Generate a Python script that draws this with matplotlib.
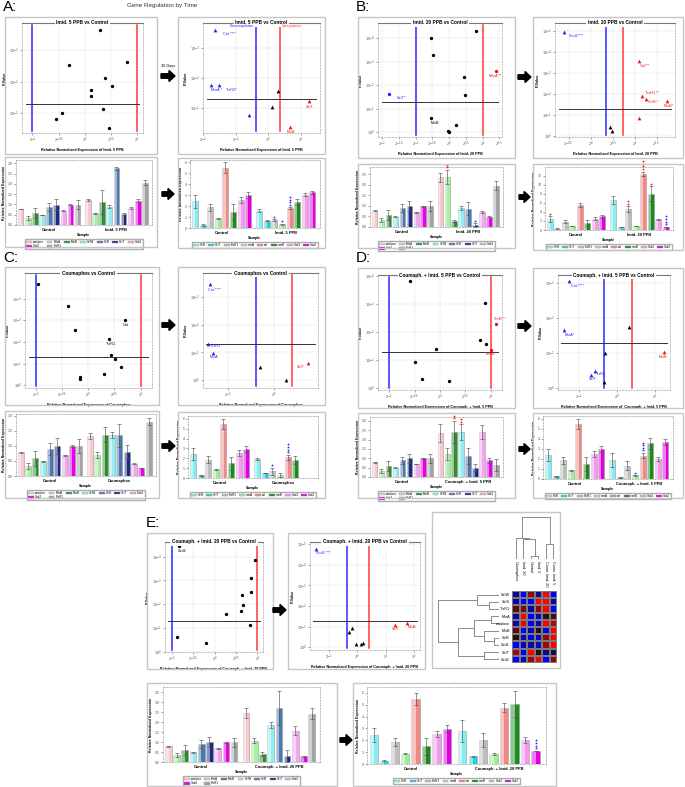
import numpy as np
import matplotlib
matplotlib.use('Agg')
import matplotlib.pyplot as plt
from matplotlib.patches import Rectangle, FancyArrow, Patch
from matplotlib.colors import LinearSegmentedColormap
from matplotlib.transforms import offset_copy

plt.rcParams['font.family'] = ['Liberation Sans', 'DejaVu Sans']
plt.rcParams['mathtext.fontset'] = 'dejavusans'

# ---- volcano data (x = log2 fold change, y = -log10 p) ----
a1_x = [0.29, 0.80, -0.30, 0.39, 0.51, 0.11, 0.11, 0.34, -0.44, -0.56, 0.47]
a1_y = [3.64, 2.62, 2.52, 2.12, 1.85, 1.72, 1.53, 1.13, 1.00, 0.81, 0.52]
a1_c = 'kkkkkkkkkkk'
a1_lab = [''] * 11

a2_x = [-1.63, -1.74, -1.50, -0.58, 0.30, 0.13, 1.27, 0.68]
a2_y = [3.59, 1.77, 1.77, 0.76, 1.58, 1.03, 1.24, 0.36]
a2_c = 'bbbbkkrr'
a2_lab = ['Cat ****', 'MsrA *', 'TrxR1*', '', '', '', 'SelT', 'MsrB']

b1_x = [0.81, -0.54, -0.48, 0.45, 1.40, 0.48, -1.79, -0.53, 0.20, -0.02, 0.00]
b1_y = [4.29, 4.00, 3.26, 2.34, 2.61, 1.59, 1.61, 0.60, 0.31, 0.03, -0.01]
b1_c = 'kkkkrkbkkkk'
b1_lab = ['', '', '', '', 'MsrA **', '', 'SelT*', 'MsrB', '', '', '']

b2_x = [-0.60, 1.10, 1.16, 1.25, 1.73, 1.10, 0.45, 0.48]
b2_y = [4.97, 3.57, 1.90, 1.75, 1.67, 0.87, 0.44, 0.24]
b2_c = 'brrrrrkk'
b2_lab = ['Sod2 ***', 'Cat***', 'TrxR1 **', 'SelK *', 'MsrB*', '', '', '']

c1_x = [-0.96, -0.39, 0.71, -0.26, 0.39, 0.44, 0.51, 0.63, 0.31, -0.15, -0.15]
c1_y = [4.66, 3.66, 3.01, 2.57, 2.15, 1.42, 1.22, 0.85, 0.54, 0.37, 0.28]
c1_c = 'kkkkkkkkkkk'
c1_lab = ['', '', 'Cat', '', 'TrxR1', '', '', '', '', '', '']

c2_x = [-1.40, -1.43, -1.34, -0.31, 0.26, 0.75]
c2_y = [3.47, 1.29, 0.98, 0.47, 0.00, 0.62]
c2_c = 'bbbkkr'
c2_lab = ['Cat ****', 'TrxR1 *', 'MsrA', '', '', 'SelT']

d1_x = [-0.59, 0.89, 1.11, 0.78, 0.90, -0.08, 1.00, -0.49, -0.36, 0.17]
d1_y = [3.83, 3.04, 2.29, 1.71, 1.59, 1.40, 1.36, 0.94, 0.34, 0.27]
d1_c = 'kkrkkkrkkk'
d1_lab = ['', '', 'SelK **', '', '', '', 'MsrB *', '', '', '']

d2_x = [-1.26, -1.39, 0.32, -0.32, 1.23, -0.69, -0.58, -0.34]
d2_y = [3.04, 1.66, 1.73, 1.00, 1.04, 0.37, 0.48, 0.19]
d2_c = 'bbkkrbbk'
d2_lab = ['Cat ****', 'MsrA*', '', '', 'MsrB', 'SelT', 'TrxR1', '']

e1_x = [-0.83, 0.95, 0.85, 0.85, 0.63, 0.67, 0.61, 0.27, 0.82, -0.87, -0.20]
e1_y = [4.47, 3.85, 3.11, 2.49, 2.39, 1.96, 1.72, 1.58, 1.10, 0.61, 0.38]
e1_c = 'kkkkkkkkkkk'
e1_lab = ['Sod2', '', '', '', '', '', '', '', '', '', '']

e2_x = [-1.44, -0.28, -0.17, -0.05, 0.12, 0.22, 1.31, 1.74]
e2_y = [4.76, 0.76, 0.92, 0.15, 0.15, 0.23, 1.08, 1.16]
e2_c = 'bkkkkkrr'
e2_lab = ['Sod2 ***', '', '', '', '', '', 'SelT', 'MsrB']

# ---- bar data ----
genes1 = ['catalase', 'MsrA', 'MsrB', 'SelW', 'SelK', 'SelT', 'Sod1', 'Sod2', 'TrxR1']
genes2 = ['SelK', 'SelT', 'TrxR1', 'msrA', 'cat', 'msrB', 'Sod1', 'Sod2']
nan = np.nan

ctrl1 = [0.78, 0.33, 0.58, 0.49, 0.89, 0.99, 0.69, 0.99, 0.99]
ctrl1_err = [0.02, 0.10, 0.25, 0.02, 0.20, 0.25, 0.02, 0.02, 0.23]
ctrl2 = [2.43, 0.28, 1.87, 0.88, 5.50, 1.48, 2.52, 2.99]
ctrl2_err = [0.58, 0.06, 0.35, 0.05, 0.52, 0.68, 0.28, 0.30]

imid5_1 = [1.21, 0.56, 1.13, 0.89, 2.76, 0.53, 0.82, 1.18, 2.06]
imid5_1_err = [0.04, 0.02, 0.58, 0.06, 0.08, 0.05, 0.04, 0.06, 0.13]
imid5_2 = [1.59, 0.67, 0.70, 0.32, 1.81, 2.38, 3.05, 3.24]
imid5_2_err = [0.10, 0.05, 0.10, 0.05, 0.08, 0.30, 0.10, 0.15]

imid20_1 = [2.37, 2.37, 0.27, 0.92, 0.87, 0.08, 0.73, 0.48, 1.97]
imid20_1_err = [0.21, 0.35, 0.05, 0.10, 0.30, 0.10, 0.05, 0.02, 0.20]
imid20_2 = [6.70, 0.66, 4.67, 0.88, 12.40, 8.00, 2.34, 0.66]
imid20_2_err = [0.90, 0.05, 0.60, 0.03, 0.50, 1.60, 0.10, 0.05]

coum_1 = [1.33, 0.70, 1.37, 1.37, 1.34, 0.81, 0.41, 0.27, 1.80]
coum_1_err = [0.10, 0.10, 0.26, 0.10, 0.37, 0.20, 0.02, 0.01, 0.12]
coum_2 = [1.93, 0.50, 0.68, 0.34, 2.10, 1.80, nan, nan]
coum_2_err = [0.08, 0.03, 0.34, 0.20, 0.27, 0.40, 0, 0]

ci5_1 = [2.34, 1.21, 2.41, 2.41, 1.13, 0.50, 2.41, 0.89, 0.63]
ci5_1_err = [0.48, 0.32, 0.59, 0.41, 0.41, 0.18, 0.36, 0.14, 0.32]
ci5_2 = [1.93, 0.17, 1.32, 0.37, 2.34, 3.56, 2.00, 3.73]
ci5_2_err = [0.68, 0.03, 0.44, 0.03, 0.27, 0.54, 0.17, 0.30]

ci20_1 = [2.47, 1.07, 0.41, 1.86, 2.69, 0.28, 1.57, 0.29, 2.43]
ci20_1_err = [0.26, 0.14, 0.09, 0.14, 0.86, 0.30, 0.24, 0.02, 0.29]
ci20_2 = [2.79, 0.65, 2.03, 0.85, 4.76, 5.07, 2.03, 1.10]
ci20_2_err = [0.90, 0.05, 0.60, 0.08, 0.37, 1.07, 0.27, 0.03]

# significance stars: (group, bar, count, colour)
a2_stars = [(1, 2, 1, 'b'), (1, 3, 1, 'b'), (1, 4, 4, 'b')]
b1_stars = [(1, 1, 2, 'r'), (1, 5, 1, 'b')]
b2_stars = [(0, 0, 1, 'r'), (1, 2, 2, 'r'), (1, 4, 4, 'r'), (1, 5, 1, 'r'), (1, 7, 4, 'b')]
c2_stars = [(1, 2, 1, 'b'), (1, 4, 4, 'b')]
d1_stars = [(1, 2, 2, 'r'), (1, 3, 2, 'r')]
d2_stars = [(1, 3, 1, 'b'), (1, 4, 4, 'b')]
e2_stars = [(1, 7, 4, 'b')]

# ---- heatmap ----
hm_rows = ['SelW', 'SelS', 'TrxR1', 'MsrA', 'catalase', 'MsrB', 'SelK', 'Sod1', 'SelT', 'Sod2']
hm_cols = ['Coumaphos', 'Imid. 20', 'Control', 'Imid. 5', 'Coum. Imid. 20', 'Coum. Imid. 5']
hm_vals = [[-0.6, -1.0, 0.5, -0.6, 1.0, -1.0],
           [-0.6, -1.0, -0.9, 1.0, 1.0, -0.6],
           [0.3, 0.4, -0.6, 0.5, 1.0, -1.0],
           [-0.6, 1.0, -1.0, -0.8, 0.1, 0.2],
           [-0.6, 0.9, -1.0, -0.7, 1.0, 0.7],
           [0.3, -1.0, -0.7, 0.1, -0.9, 1.0],
           [0.05, -0.7, -0.9, -0.7, 0.5, 1.0],
           [-1.0, -0.7, -0.6, -0.8, 0.6, 1.0],
           [0.6, -1.0, 1.0, 0.0, -0.5, -0.2],
           [-1.0, -0.7, 0.6, 1.0, -1.0, 0.5]]
row_tree = (('SelW', ('SelS', 'TrxR1', 30), 65),
            (((('MsrA', 'catalase', 25), ('MsrB', ('SelK', 'Sod1', 15), 45), 75)),
             ('SelT', 'Sod2', 45), 125), 185)
col_tree = (('Coumaphos', ('Imid. 20', ('Control', 'Imid. 5', 10), 58), 63),
            ('Coum. Imid. 20', 'Coum. Imid. 5', 43), 123)

pal1 = ['#f7c9cf', '#a6f0a0', '#2f8f2f', '#90eef0', '#4a79b2', '#1d2a84', '#f3a6f0', '#ea00ea', '#a3a3a3']
pal2 = ['#86eef0', '#22d2dc', '#bdbdbd', '#9cee94', '#f08a84', '#1d8a1d', '#f39af0', '#e000e0']
pcol = {'k': 'black', 'b': '#2424ee', 'r': '#ee1414'}

W, H = 685, 787
fig = plt.figure(figsize=(W / 100, H / 100), dpi=100)


def rect(x0, y0, x1, y1):
    return [x0 / W, 1 - y1 / H, (x1 - x0) / W, (y1 - y0) / H]


def frame(x0, y0, x1, y1):
    fig.patches.append(Rectangle((x0 / W, 1 - y1 / H), (x1 - x0) / W, (y1 - y0) / H,
                                 transform=fig.transFigure, fill=False, ec='#c6c6c6', lw=1.0))


def arrow(x0, x1, y):
    fig.patches.append(FancyArrow(x0 / W, 1 - y / H, (x1 - x0) / W, 0, width=4.5 / H,
                                  head_width=11 / H, head_length=6 / W, length_includes_head=True,
                                  fc='black', ec='black', transform=fig.transFigure))


def label(x, y, s):
    fig.text(x / W, 1 - y / H, s, fontsize=11, va='top', ha='left')


def volcano(box, title, xlab, xs, ys, kinds, labs, offs, xlim, ylim, xt, yt, down, up, mk):
    ax = fig.add_axes(rect(*box))
    ax.set_xlim(xlim)
    ax.set_ylim(ylim)
    ax.set_xticks(xt)
    ax.set_yticks(yt)
    ax.set_xticklabels(['$2^{%g}$' % v for v in xt])
    ax.set_yticklabels(['$10^{%g}$' % -v for v in yt])
    ax.tick_params(labelsize=2.6, length=1.2, width=0.4, pad=1, colors='#555555')
    ax.grid(True, ls=(0, (2, 2)), lw=0.35, color='#c8c8c8')
    for k, s in ax.spines.items():
        s.set_color('#aaaaaa')
        s.set_lw(0.5)
        if k != 'top':
            s.set_linestyle((0, (2, 2)))
    ax.spines['top'].set_color('#777777')
    ax.spines['top'].set_lw(0.8)
    ax.axvline(down, 0.02, 0.98, color='#2b2bff', lw=1.1)
    ax.axvline(up, 0.02, 0.98, color='#ff3a3a', lw=1.1)
    ax.axhline(1.3, 0.03, 0.97, color='#333333', lw=0.7)
    for x, y, k, lab in zip(xs, ys, kinds, labs):
        ax.plot(x, y, mk, color=pcol[k], ms=2.4 if mk == 'o' else 2.7, mew=0)
        if lab:
            dx, dy = offs.get(lab, (4, 5))
            ax.annotate(lab, (x, y), xytext=(dx * 0.72, -dy * 0.72), textcoords='offset points',
                        ha='center', va='center', fontsize=2.7, color=pcol[k])
    ax.text(0.5, 1, title, transform=ax.transAxes, ha='center', va='center', fontsize=3.4,
            weight='bold', bbox=dict(fc='white', ec='none', pad=1.2))
    ax.set_xlabel(xlab, fontsize=2.7, weight='bold', labelpad=2)
    ax.set_ylabel('P-Value', fontsize=2.7, weight='bold', labelpad=1.5)
    return ax


def bars(box, groups, vals, errs, colors, names, ymax, yt, yfmt, stars):
    ax = fig.add_axes(rect(*box))
    n = len(colors)
    off = n + 0.45
    cols = np.array(colors)
    for g in range(2):
        x = np.arange(n) + g * off
        v = np.array(vals[g], dtype=float)
        e = np.array(errs[g], dtype=float)
        ok = ~np.isnan(v)
        ax.bar(x[ok], v[ok], 0.8, color=cols[ok], edgecolor='#9a9a9a', lw=0.4, zorder=2)
        ax.bar(x[ok] - 0.4, v[ok], 0.42, align='edge', color='white', alpha=0.5, lw=0, zorder=2)
        ax.errorbar(x[ok], v[ok], yerr=e[ok], fmt='none', ecolor='#555555', elinewidth=0.45,
                    capsize=1.4, capthick=0.45, zorder=3)
    for g, i, k, c in stars:
        x = i + g * off
        top = vals[g][i] + errs[g][i]
        for j in range(k):
            tr = offset_copy(ax.transData, fig=fig, x=0, y=(2.5 + j * 2.6) * 0.72, units='points')
            ax.plot(x, top, '*', color=pcol[c], ms=2.2, mew=0, transform=tr, clip_on=False, zorder=4)
    ax.set_xlim(-0.65, off + n - 1 + 1.0)
    ax.set_ylim(0, ymax)
    ax.set_yticks(yt)
    ax.set_yticklabels([yfmt % v for v in yt])
    ax.set_xticks([(n - 1) / 2, off + (n - 1) / 2])
    ax.set_xticklabels(groups, fontsize=2.9, weight='bold')
    ax.tick_params(axis='x', length=0, pad=2)
    ax.tick_params(axis='y', labelsize=2.5, length=1.2, width=0.4, pad=1, colors='#555555')
    for s in ax.spines.values():
        s.set_color('#a0a0a0')
        s.set_lw(0.5)
        s.set_linestyle((0, (2, 2)))
    ax.set_xlabel('Sample', fontsize=2.7, weight='bold', labelpad=1)
    ax.set_ylabel('Relative Normalized Expression', fontsize=2.5, weight='bold', labelpad=1.5)
    handles = [Patch(fc=c, ec='#999999', lw=0.3) for c in colors]
    if n == 9:
        order, ncol = [0, 7, 1, 8, 2, 3, 4, 5, 6], 7
    else:
        order, ncol = list(range(n)), n
    hpx = box[3] - box[1]
    ax.legend([handles[i] for i in order], [names[i] for i in order], ncol=ncol,
              loc='upper center', bbox_to_anchor=(0.5, -12.5 / hpx), fontsize=2.2, frameon=True,
              fancybox=False, edgecolor='#999999', handlelength=1.9, handleheight=0.8,
              columnspacing=0.8, handletextpad=0.35, borderpad=0.3, labelspacing=0.15)
    return ax


def dendro(ax, tree, orient):
    order = []

    def walk(nd):
        if isinstance(nd, str):
            order.append(nd)
            return len(order) - 1, 0
        l, r, h = nd
        pl, hl = walk(l)
        pr, hr = walk(r)
        if orient == 'left':
            ax.plot([hl, h, h, hr], [pl, pl, pr, pr], color='#8a8a8a', lw=0.7)
        else:
            ax.plot([pl, pl, pr, pr], [hl, h, h, hr], color='#8a8a8a', lw=0.7)
        return (pl + pr) / 2, h

    walk(tree)
    return order


# ---------------- Panel A ----------------
label(3, 0, 'A:')
fig.text(162 / W, 1 - 6 / H, 'Gene Regulation by Time', fontsize=4.5, ha='center', va='center', color='#333333')
frame(5, 17, 157, 154)
volcano((22, 23, 143, 133), 'Imid. 5 PPB vs Control', 'Relative Normalized Expression of Imid. 5 PPB',
        a1_x, a1_y, a1_c, a1_lab, {}, (-1.2, 1.11), (0.36, 3.87),
        [-1, -0.5, 0, 0.5, 1], [1, 2, 3], -1, 1, 'o')
arrow(161, 175, 76)
fig.text(168 / W, 1 - 66 / H, '30 Days', fontsize=2.8, ha='center', va='center')
frame(178, 17, 325, 154)
ax = volcano((203, 23, 320, 133), 'Imid. 5 PPB vs Control', 'Relative Normalized Expression of Imid. 5 PPB',
             a2_x, a2_y, a2_c, a2_lab,
             {'Cat ****': (14, 4), 'MsrA *': (5, 5), 'TrxR1*': (12, 5), 'SelT': (0, 6), 'MsrB': (1, 5)},
             (-1.9, 1.6), (0.17, 3.83), [-2, -1, 0, 1], [1, 2, 3], -0.38, 0.38, '^')
ax.text(-0.42, 3.72, 'Downregulation', ha='right', va='center', fontsize=2.5, color='#2b2bff')
ax.text(0.42, 3.72, 'Upregulation', ha='left', va='center', fontsize=2.5, color='#ff3a3a')

frame(5, 157, 157, 247)
bars((16, 160, 152, 225), ['Control', 'Imid. 5 PPB'], [ctrl1, imid5_1], [ctrl1_err, imid5_1_err],
     pal1, genes1, 3.16, np.arange(0, 3.01, 0.5), '%.1f', [])
arrow(162, 174, 194)
frame(178, 158, 325, 248)
bars((190, 160, 320, 228), ['Control', 'Imid. 5 PPB'], [ctrl2, imid5_2], [ctrl2_err, imid5_2_err],
     pal2, genes2, 6.2, range(0, 7), '%d', a2_stars)

# ---------------- Panel B ----------------
label(356, 0, 'B:')
frame(358, 17, 515, 158)
volcano((378, 23, 502, 137), 'Imid. 20 PPB vs Control', 'Relative Normalized Expression of Imid. 20 PPB',
        b1_x, b1_y, b1_c, b1_lab, {'MsrA **': (-1, 5), 'SelT*': (12, 4), 'MsrB': (4, 5)},
        (-2.12, 1.58), (-0.21, 4.64), [-2, -1.5, -1, -0.5, 0, 0.5, 1, 1.5], [0, 1, 2, 3, 4], -1, 1, 'o')
arrow(518, 531, 77)
frame(533, 17, 683, 158)
volcano((555, 23, 675, 137), 'Imid. 20 PPB vs Control', 'Relative Normalized Expression of Imid. 20 PPB',
        b2_x, b2_y, b2_c, b2_lab,
        {'Sod2 ***': (12, 4), 'Cat***': (6, 5), 'TrxR1 **': (10, -3), 'SelK *': (8, 3), 'MsrB*': (2, 5)},
        (-0.81, 1.92), (-0.05, 5.4), [-0.5, 0, 0.5, 1, 1.5], [0, 1, 2, 3, 4, 5], 0.34, 0.73, '^')

frame(358, 164, 515, 248)
bars((370, 167, 503, 227), ['Control', 'Imid. 20 PPB'], [ctrl1, imid20_1], [ctrl1_err, imid20_1_err],
     pal1, genes1, 2.85, np.arange(0, 2.51, 0.5), '%.1f', b1_stars)
arrow(519, 530, 197)
frame(533, 164, 683, 250)
bars((545, 167, 673, 230), ['Control', 'Imid. 20 PPB'], [ctrl2, imid20_2], [ctrl2_err, imid20_2_err],
     pal2, genes2, 13.9, range(0, 13, 2), '%d', b2_stars)

# ---------------- Panel C ----------------
label(3, 251, 'C:')
frame(5, 267, 159, 405)
volcano((25, 273, 152, 388), 'Coumaphos vs Control', 'Relative Normalized Expression of Coumaphos',
        c1_x, c1_y, c1_c, c1_lab, {'Cat': (0, 5), 'TrxR1': (2, 5)},
        (-1.21, 1.22), (-0.12, 5.18), [-1, -0.5, 0, 0.5, 1], [0, 1, 2, 3, 4], -1, 1, 'o')
arrow(162, 175, 325)
frame(178, 267, 325, 405)
volcano((203, 273, 318, 388), 'Coumaphos vs Control', 'Relative Normalized Expression of Coumaphos',
        c2_x, c2_y, c2_c, c2_lab,
        {'Cat ****': (5, 6), 'TrxR1 *': (8, 2), 'MsrA': (1, 4), 'SelT': (-7, 4)},
        (-1.55, 0.97), (-0.29, 3.88), [-1, 0], [0, 1, 2, 3], -0.38, 0.39, '^')

frame(5, 411, 159, 498)
bars((16, 414, 156, 476), ['Control', 'Coumaphos'], [ctrl1, coum_1], [ctrl1_err, coum_1_err],
     pal1, genes1, 2.05, np.arange(0, 2.01, 0.5), '%.1f', [])
arrow(162, 175, 446)
frame(178, 412, 325, 498)
bars((188, 416, 318, 478), ['Control', 'Coumaphos'], [ctrl2, coum_2], [ctrl2_err, coum_2_err],
     pal2, genes2, 6.3, range(0, 7), '%d', c2_stars)

# ---------------- Panel D ----------------
label(356, 251, 'D:')
frame(358, 268, 515, 408)
volcano((378, 275, 502, 390), 'Coumaph. + Imid. 5 PPB vs Control',
        'Relative Normalized Expression of Coumaph. + Imid. 5 PPB',
        d1_x, d1_y, d1_c, d1_lab, {'SelK **': (4, -5), 'MsrB *': (1, 4)},
        (-1.22, 1.22), (-0.06, 4.04), [-1, -0.5, 0, 0.5, 1], [0, 1, 2, 3, 4], -1, 1, 'o')
arrow(518, 531, 326)
frame(533, 268, 683, 408)
volcano((558, 275, 670, 390), 'Coumaph. + Imid. 5 PPB vs Control',
        'Relative Normalized Expression of  Coumaph. + Imid. 5 PPB',
        d2_x, d2_y, d2_c, d2_lab,
        {'Cat ****': (8, 5), 'MsrA*': (6, 5), 'MsrB': (-1, 5), 'SelT': (2, 4), 'TrxR1': (6, 3)},
        (-1.55, 1.39), (-0.05, 3.22), [-1, 0, 1], [0, 1, 2, 3], -0.35, 0.40, '^')

frame(358, 413, 515, 498)
bars((370, 417, 503, 477), ['Control', 'Coumaph. + Imid. 5 PPB'], [ctrl1, ci5_1], [ctrl1_err, ci5_1_err],
     pal1, genes1, 3.2, np.arange(0, 3.01, 0.5), '%.1f', d1_stars)
arrow(519, 530, 449)
frame(533, 413, 683, 498)
bars((543, 416, 673, 479), ['Control', 'Coumaph. + Imid. 5 PPB'], [ctrl2, ci5_2], [ctrl2_err, ci5_2_err],
     pal2, genes2, 6.3, range(0, 7), '%d', d2_stars)

# ---------------- Panel E ----------------
label(146, 516, 'E:')
frame(147, 533, 273, 669)
volcano((165, 542, 263, 652), 'Coumaph. + Imid. 20 PPB vs Control',
        'Relative Normalized Expression of Coumaph. + Imid. 20 PPB',
        e1_x, e1_y, e1_c, e1_lab, {'Sod2': (3, 5)},
        (-1.16, 1.13), (-0.02, 4.62), [-1, -0.5, 0, 0.5, 1], [0, 1, 2, 3, 4], -1, 1, 'o')
arrow(273, 286, 610)
frame(288, 533, 425, 669)
volcano((310, 542, 420, 650), 'Coumaph. + Imid. 20 PPB vs Control',
        'Relative Normalized Expression of Coumaph. + Imid. 20 PPB',
        e2_x, e2_y, e2_c, e2_lab, {'Sod2 ***': (7, 4), 'SelT': (1, 4), 'MsrB': (5, 4)},
        (-1.65, 2.2), (-0.13, 5.11), [-1, 0, 1, 2], [0, 1, 2, 3, 4, 5], -0.35, 0.40, '^')

frame(147, 683, 337, 786)
bars((163, 687, 320, 762), ['Control', 'Coumaph. + Imid. 20 PPB'], [ctrl1, ci20_1], [ctrl1_err, ci20_1_err],
     pal1, genes1, 3.76, np.arange(0, 3.51, 0.5), '%.1f', [])
arrow(340, 352, 740)
frame(353, 683, 556, 786)
bars((367, 687, 546, 764), ['Control', 'Coumaph. + Imid. 20 PPB'], [ctrl2, ci20_2], [ctrl2_err, ci20_2_err],
     pal2, genes2, 6.5, range(0, 7), '%d', e2_stars)

# heatmap with dendrograms
frame(432, 512, 560, 668)
cm = LinearSegmentedColormap.from_list('bkr', ['#0000ff', '#1a1010', '#ff0000'])
axr = fig.add_axes(rect(436, 591, 499, 663))
dendro(axr, row_tree, 'left')
axr.set_xlim(190, 0)
axr.set_ylim(9.5, -0.5)
axr.axis('off')
axc = fig.add_axes(rect(512, 516, 557, 559))
dendro(axc, col_tree, 'top')
axc.set_xlim(-0.5, 5.5)
axc.set_ylim(0, 126)
axc.axis('off')
for i, c in enumerate(hm_cols):
    axc.annotate(c, (i, 0), xytext=(0, -1.5), textcoords='offset points', rotation=270,
                 ha='center', va='top', fontsize=2.7, annotation_clip=False)
axh = fig.add_axes(rect(512, 591, 557, 663))
axh.pcolormesh(np.arange(7) - 0.5, np.arange(11) - 0.5, np.array(hm_vals), cmap=cm, vmin=-1, vmax=1,
               edgecolors='#7a7a7a', lw=0.3)
axh.set_xlim(-0.5, 5.5)
axh.set_ylim(9.5, -0.5)
axh.set_xticks([])
axh.set_yticks(range(len(hm_rows)))
axh.set_yticklabels(hm_rows, fontsize=2.7)
axh.tick_params(length=0, pad=1.5)
for s in axh.spines.values():
    s.set_visible(False)

fig.savefig('out.png', dpi=100)
